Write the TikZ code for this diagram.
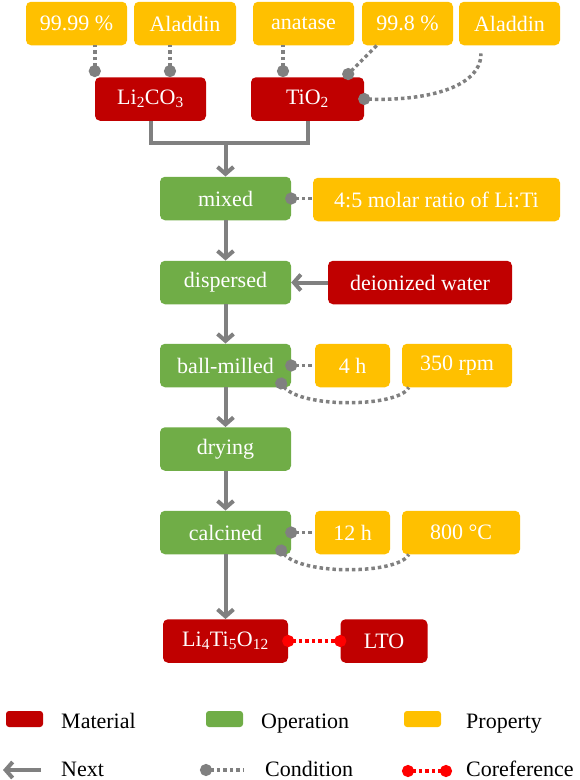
\documentclass[tikz,border=0pt]{standalone}
\usepackage{fontspec}
\setmainfont{Liberation Serif}
\usetikzlibrary{arrows.meta}

\definecolor{matred}{HTML}{C00000}
\definecolor{opgreen}{HTML}{70AD47}
\definecolor{propyellow}{HTML}{FFC000}
\definecolor{linegray}{HTML}{808080}
\definecolor{corefred}{HTML}{FF0000}
\newcommand{\boxfont}{\fontsize{22}{26}\selectfont}

\begin{document}
\begin{tikzpicture}[x=1pt,y=-1pt,
    box/.style={rounded corners=5pt,inner sep=0pt,minimum height=43.5pt,text=white,font=\boxfont},
    material/.style={box,fill=matred},
    operation/.style={box,fill=opgreen,minimum width=131pt},
    property/.style={box,fill=propyellow},
    keybox/.style={minimum width=37pt,minimum height=16pt,rounded corners=3pt},
    nextarrow/.style={draw=linegray,line width=4pt,-{Straight Barb[length=7pt,width=16pt]}},
    cond/.style={draw=linegray,line width=3.5pt,dash pattern=on 3.5pt off 3pt,{Circle[length=12pt,width=12pt]}-},
    centred/.style={shorten <=-6pt},
    coref/.style={draw=corefred,line width=3.5pt,dash pattern=on 3.5pt off 3pt,
      {Circle[length=12pt,width=12pt]}-{Circle[length=12pt,width=12pt]},shorten <=-6pt,shorten >=-6pt},
    legendtext/.style={anchor=base west,inner sep=0pt,font=\boxfont}]
        \useasboundingbox (0,0) rectangle (580,780);
        % starting materials and their properties
        \node[material,minimum width=111pt] (li2co3) at (150.5,99) {Li\textsubscript{2}CO\textsubscript{3}};
        \node[material,minimum width=113pt] (tio2) at (307.5,99) {TiO\textsubscript{2}};
        \node[property,minimum width=101pt] (purity1) at (76.5,23.5) {99.99 \%};
        \node[property,minimum width=102pt] (supplier1) at (185,23.5) {Aladdin};
        \node[property,minimum width=101pt] (phase) at (303.5,23.5) {anatase};
        \node[property,minimum width=91pt] (purity2) at (407.5,23.5) {99.8 \%};
        \node[property,minimum width=101pt] (supplier2) at (509.5,23.5) {Aladdin};
        % operations
        \node[operation] (mixed) at (225.5,198.5) {mixed};
        \node[operation] (dispersed) at (225.5,282.5) {dispersed};
        \node[operation] (milled) at (225.5,365.5) {ball-milled};
        \node[operation] (drying) at (225.5,449) {drying};
        \node[operation] (calcined) at (225.5,532.5) {calcined};
        \node[material,minimum width=125pt] (lto) at (225.5,641) {Li\textsubscript{4}Ti\textsubscript{5}O\textsubscript{12}};
        \node[material,minimum width=87pt] (ltoabbr) at (384,641) {LTO};
        \node[material,minimum width=184pt] (water) at (420,282.5) {deionized water};
        \node[property,minimum width=247pt] (ratio) at (436.5,199.5) {4:5 molar ratio of Li:Ti};
        \node[property,minimum width=75pt] (time1) at (352.5,365.5) {4 h};
        \node[property,minimum width=110pt] (speed) at (457,365.5) {350 rpm};
        \node[property,minimum width=75pt] (time2) at (352.5,532.5) {12 h};
        \node[property,minimum width=118pt] (temp) at (461,532.5) {800 °C};
        % next
        \coordinate (join) at (225.5,143);
        \draw[linegray,line width=4pt] (li2co3.south) |- (join) -| (tio2.south);
        \draw[nextarrow] (join) -- (mixed);
        \draw[nextarrow] (mixed) -- (dispersed);
        \draw[nextarrow] (water) -- (dispersed);
        \draw[nextarrow] (dispersed) -- (milled);
        \draw[nextarrow] (milled) -- (drying);
        \draw[nextarrow] (drying) -- (calcined);
        \draw[nextarrow] (calcined) -- (lto);
        % conditions
        \draw[cond] (li2co3.north west) -- (li2co3.north west |- purity1.south);
        \draw[cond] (170,0 |- li2co3.north) -- (170,0 |- supplier1.south);
        \draw[cond] (283,0 |- tio2.north) -- (283,0 |- phase.south);
        \draw[cond,centred] ([xshift=-16pt,yshift=3pt]tio2.north east) -- ([xshift=15pt]purity2.south west);
        \draw[cond,centred] (tio2.east) .. controls +(60,2) and +(0,35) .. ([xshift=-28.5pt,yshift=-8pt]supplier2.south);
        \draw[cond,centred] (mixed.east) -- (mixed.east -| ratio.west);
        \draw[cond,centred] (milled.east) -- (time1.west);
        \draw[cond,centred] ([xshift=-10pt,yshift=4pt]milled.south east) .. controls +(20,25) and +(-10,20) .. ([xshift=7pt]speed.south west);
        \draw[cond,centred] (calcined.east) -- (time2.west);
        \draw[cond,centred] ([xshift=-10pt,yshift=4pt]calcined.south east) .. controls +(20,25) and +(-10,20) .. ([xshift=7pt]temp.south west);
        % coreference
        \draw[coref] (lto) -- (ltoabbr);
        % legend
        \node[material,keybox] (keymat) at (24.5,719) {};
        \node[legendtext] (keymattext) at (61,728) {Material};
        \node[operation,keybox] (keyop) at (224.5,719) {};
        \node[legendtext] (keyoptext) at (261,728) {Operation};
        \node[property,keybox] (keyprop) at (422.5,719) {};
        \node[legendtext] (keyproptext) at (466,728) {Property};
        \coordinate (nexttail) at (41,770);
        \coordinate (nexthead) at (3,770);
        \draw[nextarrow] (nexttail) -- (nexthead);
        \node[legendtext] (keynexttext) at (61,776) {Next};
        \coordinate (condstart) at (206,770);
        \coordinate (condend) at (244,770);
        \draw[cond,centred] (condstart) -- (condend);
        \node[legendtext] (keycondtext) at (265,776) {Condition};
        \coordinate (corefstart) at (408,771);
        \coordinate (corefend) at (446,771);
        \draw[coref] (corefstart) -- (corefend);
        \node[legendtext] (keycoreftext) at (466,776) {Coreference};
\end{tikzpicture}
\end{document}
